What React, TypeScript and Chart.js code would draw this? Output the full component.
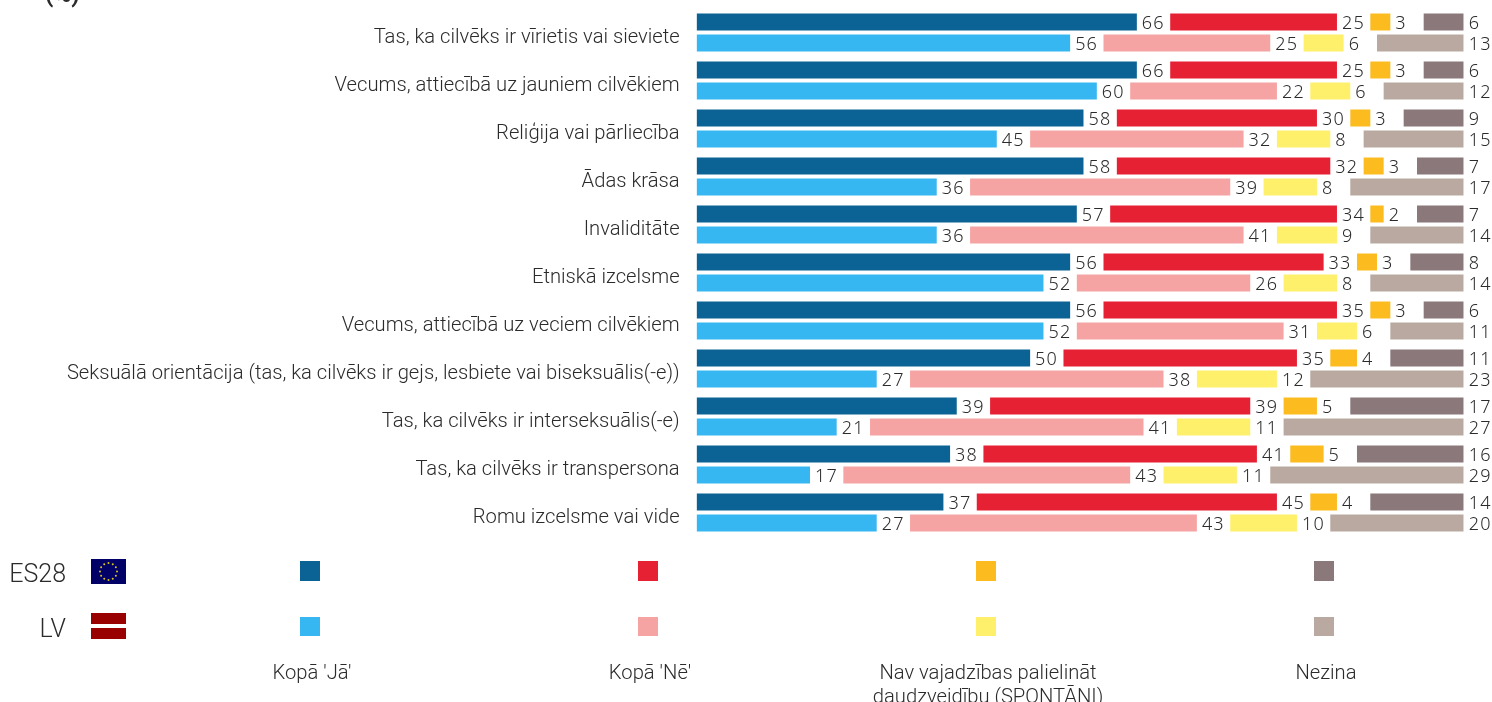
import React, { useEffect, useRef } from "react";
import { Chart, registerables } from "chart.js";

Chart.register(...registerables);

const categories = [
  "Tas, ka cilvēks ir vīrietis vai sieviete",
  "Vecums, attiecībā uz jauniem cilvēkiem",
  "Reliģija vai pārliecība",
  "Ādas krāsa",
  "Invaliditāte",
  "Etniskā izcelsme",
  "Vecums, attiecībā uz veciem cilvēkiem",
  "Seksuālā orientācija (tas, ka cilvēks ir gejs, lesbiete vai biseksuālis(-e))",
  "Tas, ka cilvēks ir interseksuālis(-e)",
  "Tas, ka cilvēks ir transpersona",
  "Romu izcelsme vai vide",
];

const es28Yes = [66, 66, 58, 58, 57, 56, 56, 50, 39, 38, 37];
const es28No = [25, 25, 30, 32, 34, 33, 35, 35, 39, 41, 45];
const es28NoNeed = [3, 3, 3, 3, 2, 3, 3, 4, 5, 5, 4];
const es28DontKnow = [6, 6, 9, 7, 7, 8, 6, 11, 17, 16, 14];

const lvYes = [56, 60, 45, 36, 36, 52, 52, 27, 21, 17, 27];
const lvNo = [25, 22, 32, 39, 41, 26, 31, 38, 41, 43, 43];
const lvNoNeed = [6, 6, 8, 8, 9, 8, 6, 12, 11, 11, 10];
const lvDontKnow = [13, 12, 15, 17, 14, 14, 11, 23, 27, 29, 20];

const spacer = [5, 5, 5, 5, 5, 5, 5, 5, 5, 5, 5];

const legendLabels = [["Kopā 'Jā'"], ["Kopā 'Nē'"], ["Nav vajadzības palielināt", "daudzveidību (SPONTĀNI)"], ["Nezina"]];
const es28Colors = ["#0B6294", "#E62133", "#FCBB1F", "#8A787B"];
const lvColors = ["#36B7F1", "#F6A4A3", "#FFF06B", "#B9A9A0"];
const rowNames = ["ES28", "LV"];
const unitLabel = "(%)";

const TEXT = "#2b2b2b";
const LABEL_FONT = "300 20.2px Roboto";
const VALUE_FONT = '300 18px "Noto Sans"';

const stackOf = (stack: string, values: number[][], colors: string[]) => {
  const out: any[] = [];
  values.forEach((data, i) => {
    out.push({ label: `${stack} ${legendLabels[i].join(" ")}`, data, stack, backgroundColor: colors[i], valueLabel: true });
    if (i < values.length - 1) {
      out.push({ label: `${stack} gap ${i}`, data: spacer, stack, backgroundColor: "rgba(0,0,0,0)", valueLabel: false });
    }
  });
  return out;
};

const drawStars = (ctx: CanvasRenderingContext2D, cx: number, cy: number) => {
  ctx.fillStyle = "#D8C820";
  for (let i = 0; i < 12; i++) {
    const a = (i * Math.PI) / 6;
    ctx.beginPath();
    ctx.arc(cx + Math.cos(a) * 8.5, cy + Math.sin(a) * 8.5, 1, 0, Math.PI * 2);
    ctx.fill();
  }
};

const decorPlugin = {
  id: "decor",
  beforeDraw(chart: any) {
    const y = chart.scales.y;
    if (!y.__shifted) {
      y.__shifted = true;
      const orig = y.drawLabels;
      y.drawLabels = function (area: any) {
        const c = this.ctx;
        c.save();
        c.translate(0, 5.5);
        orig.call(this, area);
        c.restore();
      };
    }
  },
  afterDatasetsDraw(chart: any) {
    const ctx: CanvasRenderingContext2D = chart.ctx;
    ctx.save();
    ctx.font = VALUE_FONT;
    ctx.fillStyle = TEXT;
    ctx.textAlign = "left";
    ctx.textBaseline = "middle";
    (ctx as any).letterSpacing = "1.2px";
    chart.data.datasets.forEach((ds: any, di: number) => {
      if (!ds.valueLabel) return;
      chart.getDatasetMeta(di).data.forEach((bar: any, i: number) => {
        ctx.fillText(String(ds.data[i]), bar.x + 5, bar.y + 1.5);
      });
    });
    (ctx as any).letterSpacing = "0px";

    const xs = [300, 638, 976, 1314];
    xs.forEach((x, i) => {
      ctx.fillStyle = es28Colors[i];
      ctx.fillRect(x, 561, 20, 20);
      ctx.fillStyle = lvColors[i];
      ctx.fillRect(x, 617, 20, 19);
      ctx.fillStyle = TEXT;
      ctx.font = LABEL_FONT;
      ctx.textAlign = "center";
      legendLabels[i].forEach((line, li) => {
        ctx.fillText(line, x + 12, 673.5 + li * 24);
      });
    });

    ctx.font = "300 25px Roboto";
    ctx.textAlign = "right";
    ctx.fillStyle = TEXT;
    ctx.fillText(rowNames[0], 66, 576);
    ctx.fillText(rowNames[1], 66, 631);

    ctx.fillStyle = "#000066";
    ctx.fillRect(91, 559, 35, 25);
    drawStars(ctx, 108.5, 571.5);
    ctx.fillStyle = "#990000";
    ctx.fillRect(91, 613, 35, 11);
    ctx.fillRect(91, 628, 35, 11);

    ctx.font = "700 24px Roboto";
    ctx.textAlign = "left";
    ctx.fillStyle = TEXT;
    ctx.fillText(unitLabel, 45, -4);
    ctx.restore();
  },
};

export default function App() {
  const ref = useRef<HTMLCanvasElement>(null);
  useEffect(() => {
    const chart = new Chart(ref.current as HTMLCanvasElement, {
      type: "bar",
      data: {
        labels: categories,
        datasets: [
          ...stackOf("ES28", [es28Yes, es28No, es28NoNeed, es28DontKnow], es28Colors),
          ...stackOf("LV", [lvYes, lvNo, lvNoNeed, lvDontKnow], lvColors),
        ],
      },
      options: {
        indexAxis: "y",
        animation: false,
        responsive: false,
        events: [],
        layout: { padding: { left: 0, top: 8.5, right: 28.3, bottom: 165.5 } },
        categoryPercentage: 0.875,
        barPercentage: 0.81,
        plugins: { legend: { display: false }, title: { display: false }, tooltip: { enabled: false } },
        scales: {
          x: { stacked: true, min: 0, max: 115, display: false },
          y: {
            stacked: true,
            afterFit(scale: any) {
              scale.width = 696.6;
              scale.paddingTop = 0;
              scale.paddingBottom = 0;
            },
            border: { display: false },
            grid: { display: false, drawTicks: false },
            ticks: { color: TEXT, font: { family: "Roboto", size: 20.2, weight: "300" }, padding: 17, autoSkip: false },
          },
        },
      } as any,
      plugins: [decorPlugin],
    });
    return () => chart.destroy();
  }, []);
  return (
    <canvas
      ref={ref}
      width={1492}
      height={702}
      style={{ position: "fixed", left: 0, top: 0, width: 1492, height: 702, display: "block" }}
    />
  );
}
